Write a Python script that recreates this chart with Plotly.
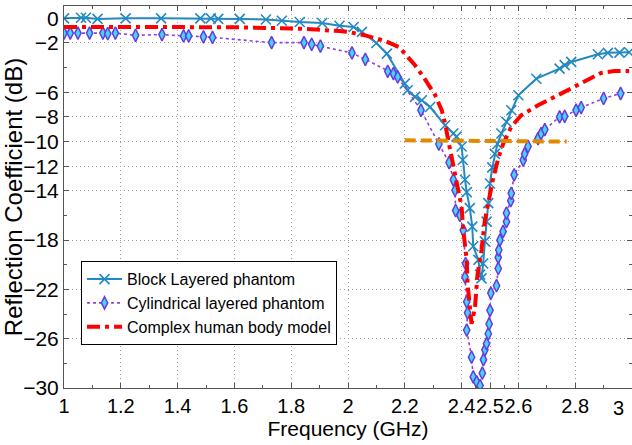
import plotly.graph_objects as go

# ---- data ----
block_f = [1.00, 1.06, 1.077, 1.118, 1.217, 1.342, 1.48, 1.517, 1.543, 1.619, 1.711, 1.767, 1.83, 1.909,
           1.97, 2.02, 2.049, 2.10, 2.137, 2.20, 2.21, 2.236, 2.26, 2.289, 2.342, 2.371, 2.382, 2.40, 2.404,
           2.412, 2.418, 2.429, 2.4375, 2.441, 2.459, 2.465, 2.47, 2.476, 2.482, 2.488, 2.494, 2.50, 2.508,
           2.517, 2.526, 2.54, 2.558, 2.575, 2.60, 2.663, 2.745, 2.763, 2.786, 2.88, 2.915, 2.956, 2.99]
block_db = [0.0, 0.05, 0.05, -0.05, 0.0, 0.0, 0.0, 0.0, -0.05, -0.05, -0.1, -0.2, -0.3, -0.38,
            -0.6, -0.7, -1.1, -2.0, -2.87, -5.3, -5.84, -6.38, -6.65, -7.2, -8.68, -9.35, -9.6, -10.4, -11.5,
            -13.1, -14.1, -15.4, -16.9, -18.5, -19.6, -20.8, -21.1, -19.9, -18.1, -16.5, -15.0, -13.4, -12.1,
            -11.0, -10.2, -9.35, -8.4, -7.46, -6.24, -4.9, -4.08, -3.8, -3.54, -2.92, -2.8, -2.78, -2.75]

cyl_f = [1.00, 1.022, 1.049, 1.09, 1.137, 1.154, 1.181, 1.252, 1.345, 1.421, 1.439, 1.491, 1.523, 1.731,
         1.845, 1.872, 1.903, 2.014, 2.061, 2.14, 2.16, 2.175, 2.257, 2.32, 2.356, 2.371, 2.377, 2.379,
         2.394, 2.406, 2.414, 2.412, 2.418, 2.421, 2.418, 2.435, 2.441, 2.453, 2.465, 2.473, 2.477, 2.482,
         2.488, 2.494, 2.497, 2.50, 2.503, 2.523, 2.529, 2.529, 2.531, 2.535, 2.546, 2.558, 2.558, 2.573,
         2.575, 2.585, 2.617, 2.622, 2.634, 2.669, 2.68, 2.693, 2.745, 2.763, 2.803, 2.821, 2.90, 2.96]
cyl_db = [-1.2, -1.2, -1.2, -1.2, -1.2, -1.25, -1.2, -1.38, -1.32, -1.43, -1.43, -1.5, -1.55, -1.97,
          -1.97, -2.11, -2.25, -2.81, -3.33, -4.3, -4.49, -4.76, -7.46, -10.2, -11.7, -13.1, -13.95, -15.6,
          -16.0, -17.2, -19.9, -21.0, -23.0, -23.9, -25.3, -27.5, -29.1, -29.5, -29.8, -28.8, -27.7, -26.9,
          -26.4, -25.6, -24.8, -23.7, -22.3, -21.7, -20.3, -19.4, -18.8, -18.0, -17.3, -16.5, -15.8, -14.8,
          -14.2, -12.7, -11.5, -11.0, -10.4, -9.76, -9.35, -9.03, -8.0, -7.95, -7.46, -7.24, -6.5, -6.1]

body_f = [1.0, 1.3, 1.6, 1.83, 1.91, 1.97, 2.0, 2.06, 2.13, 2.18, 2.20, 2.236, 2.266, 2.307, 2.33, 2.342,
          2.353, 2.365, 2.377, 2.40, 2.406, 2.418, 2.421, 2.426, 2.435, 2.447, 2.456, 2.47, 2.482, 2.51,
          2.53, 2.546, 2.575, 2.61, 2.669, 2.739, 2.798, 2.856, 2.891, 2.938, 2.99]
body_db = [-0.7, -0.7, -0.72, -0.84, -0.92, -1.03, -1.1, -1.38, -1.84, -2.33, -2.86, -3.81, -4.76, -6.24,
           -7.46, -8.54, -9.9, -11.25, -12.9, -15.3, -17.2, -19.6, -21.5, -22.6, -24.8, -23.5, -20.8, -18.8,
           -16.4, -13.1, -11.3, -10.2, -8.8, -7.87, -7.06, -6.24, -5.57, -4.9, -4.43, -4.27, -4.27]

ref_f = [2.2, 2.77]
ref_db = [-9.9, -10.0]

x_ticks = [1, 1.2, 1.4, 1.6, 1.8, 2, 2.2, 2.4, 2.5, 2.6, 2.8, 3]
x_ticktext = ["1", "1.2", "1.4", "1.6", "1.8", "2", "2.2", "2.4", "2.5", "2.6", "2.8", ""]
x_minor = [1.1, 1.3, 1.5, 1.7, 1.9, 2.1, 2.3, 2.45, 2.55, 2.7, 2.9]
y_ticks = [0, -2, -6, -8, -10, -12, -14, -18, -22, -26, -30]
y_minor = [-4, -16, -20, -24, -28]

names = ["Block Layered phantom", "Cylindrical layered phantom", "Complex human body model"]

FONT = "Liberation Sans, Arial, sans-serif"

fig = go.Figure()
fig.add_trace(go.Scatter(
    x=block_f, y=block_db, mode="lines+markers", name=names[0],
    line=dict(color="#2389c2", width=2),
    marker=dict(symbol="x-thin", size=10, line=dict(color="#2389c2", width=1.6)),
))
fig.add_trace(go.Scatter(
    x=cyl_f, y=cyl_db, mode="lines+markers", name=names[1],
    line=dict(color="#9040e0", width=1.6, dash="dot"),
    marker=dict(symbol="diamond-tall", size=9, color="#3fd8f5", line=dict(color="#6a3ae0", width=1.5)),
))
fig.add_trace(go.Scatter(
    x=body_f, y=body_db, mode="lines", name=names[2],
    line=dict(color="#ff0000", width=4, dash="13px,5px,4px,5px"),
))
fig.add_trace(go.Scatter(
    x=ref_f, y=ref_db, mode="lines", showlegend=False,
    line=dict(color="#e08a00", width=4, dash="11px,5px"),
))

fig.update_layout(
    width=632, height=445,
    margin=dict(l=64, r=0, t=6, b=57),
    paper_bgcolor="white", plot_bgcolor="white",
    font=dict(family=FONT, size=20, color="black"),
    showlegend=True,
    legend=dict(
        x=0.03, y=0.332, xanchor="left", yanchor="top",
        bgcolor="white", bordercolor="black", borderwidth=1,
        font=dict(family=FONT, size=16, color="black"),
        itemwidth=35, tracegroupgap=0,
    ),
    annotations=[dict(
        x=3, y=0, xref="x", yref="paper", text="3", showarrow=False,
        xanchor="center", yanchor="top", xshift=-14, yshift=-7,
        font=dict(family=FONT, size=20, color="black"),
    )],
)

fig.update_xaxes(
    range=[1, 3.0], tickmode="array", tickvals=x_ticks, ticktext=x_ticktext, tickangle=0,
    ticks="inside", ticklen=5, tickcolor="#555", tickwidth=1,
    showline=True, linecolor="#555", linewidth=1, mirror="ticks",
    showgrid=True, gridcolor="#a0a0a0", griddash="1px,3px", gridwidth=1,
    zeroline=False, automargin=True,
    minor=dict(tickmode="array", tickvals=x_minor, ticks="inside", ticklen=3, tickcolor="#555", showgrid=False),
    title=dict(text="Frequency (GHz)", standoff=1, font=dict(family=FONT, size=21)),
    tickfont=dict(family=FONT, size=20),
)
fig.update_yaxes(
    range=[-30, 1], tickmode="array", tickvals=y_ticks,
    ticks="inside", ticklen=5, tickcolor="#555", tickwidth=1,
    showline=True, linecolor="#555", linewidth=1, mirror="ticks",
    showgrid=True, gridcolor="#a0a0a0", griddash="1px,3px", gridwidth=1,
    zeroline=False, automargin=True,
    minor=dict(tickmode="array", tickvals=y_minor, ticks="inside", ticklen=3, tickcolor="#555", showgrid=False),
    title=dict(text="Reflection Coefficient (dB)", standoff=0, font=dict(family=FONT, size=24)),
    tickfont=dict(family=FONT, size=21),
)

fig.write_html("out.html")
